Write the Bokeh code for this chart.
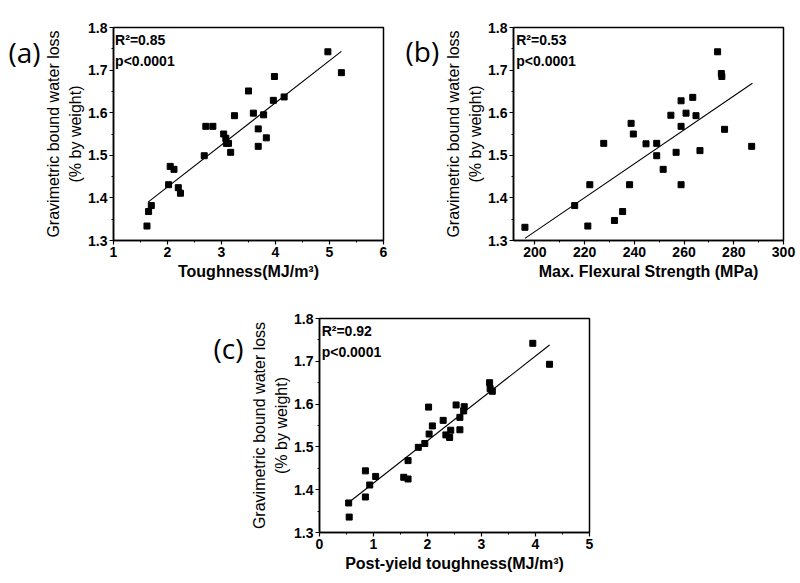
from bokeh.plotting import figure
from bokeh.layouts import column, row
from bokeh.models import FixedTicker, Label, Range1d
from bokeh.embed import file_html
from bokeh.resources import INLINE

# ---------------- data ----------------
# (a) Toughness vs bound water loss
a_x = [1.62, 1.65, 1.70, 2.02, 2.05, 2.12, 2.20, 2.24, 2.68, 2.71, 2.84, 3.04, 3.08,
       3.09, 3.13, 3.17, 3.24, 3.50, 3.59, 3.68, 3.68, 3.78, 3.83, 3.96, 3.98, 4.16,
       4.97, 5.22]
a_y = [1.334, 1.368, 1.382, 1.431, 1.474, 1.467, 1.424, 1.411, 1.499, 1.568, 1.568,
       1.550, 1.540, 1.528, 1.528, 1.507, 1.593, 1.651, 1.599, 1.562, 1.521, 1.595,
       1.541, 1.629, 1.685, 1.637, 1.743, 1.694]
a_fit_x = [1.64, 5.22]
a_fit_y = [1.390, 1.744]

# (b) Max flexural strength vs bound water loss
b_x = [196.0, 216.0, 221.3, 222.1, 227.7, 232.0, 235.3, 238.1, 238.7, 239.6, 244.7,
       249.0, 249.0, 251.6, 254.7, 256.8, 258.8, 258.8, 258.8, 260.8, 263.5, 264.8,
       266.4, 273.5, 275.0, 275.2, 276.3, 287.2]
b_y = [1.331, 1.382, 1.334, 1.431, 1.528, 1.347, 1.368, 1.431, 1.575, 1.550, 1.527,
       1.528, 1.499, 1.467, 1.594, 1.507, 1.628, 1.568, 1.431, 1.599, 1.636, 1.593,
       1.511, 1.743, 1.692, 1.685, 1.561, 1.521]
b_fit_x = [196.0, 287.5]
b_fit_y = [1.305, 1.669]

# (c) Post-yield toughness vs bound water loss
c_x = [0.54, 0.55, 0.85, 0.85, 0.93, 1.04, 1.56, 1.64, 1.64, 1.83, 1.95, 2.02, 2.03,
       2.09, 2.29, 2.34, 2.41, 2.43, 2.53, 2.60, 2.60, 2.67, 2.68, 3.15, 3.16, 3.20,
       3.95, 4.26]
c_y = [1.369, 1.336, 1.444, 1.383, 1.411, 1.431, 1.429, 1.425, 1.468, 1.499, 1.508,
       1.593, 1.530, 1.549, 1.562, 1.528, 1.522, 1.539, 1.598, 1.569, 1.540, 1.584,
       1.594, 1.650, 1.636, 1.630, 1.742, 1.693]
c_fit_x = [0.57, 4.26]
c_fit_y = [1.373, 1.738]

y_ticks = [1.3, 1.4, 1.5, 1.6, 1.7, 1.8]
y_minor = [1.35, 1.45, 1.55, 1.65, 1.75]

Y_TITLE = "Gravimetric bound water loss\n(% by weight)"

FONT = "Liberation Sans"


def make_panel(xs, ys, fx, fy, x_range, x_ticks, x_minor, x_title, stats,
               width, height, left, right, top, bottom, stat_x):
    p = figure(width=width, height=height, x_range=x_range, y_range=(1.3, 1.8),
               output_backend="svg", toolbar_location=None,
               min_border_left=left, min_border_right=right,
               min_border_top=top, min_border_bottom=bottom)
    p.background_fill_color = "white"
    p.border_fill_color = "white"
    p.outline_line_color = "black"
    p.outline_line_width = 1.5
    p.outline_line_alpha = 1.0
    p.xgrid.visible = False
    p.ygrid.visible = False

    p.line(fx, fy, line_color="black", line_width=1.1)
    p.scatter(xs, ys, marker="square", size=6, fill_color="black", line_color="black")

    p.xaxis.ticker = FixedTicker(ticks=x_ticks, minor_ticks=x_minor)
    p.yaxis.ticker = FixedTicker(ticks=y_ticks, minor_ticks=y_minor)
    for ax in (p.xaxis, p.yaxis):
        ax.axis_line_color = "black"
        ax.axis_line_width = 1.5
        ax.major_tick_line_color = "black"
        ax.minor_tick_line_color = "black"
        ax.major_tick_line_width = 1.2
        ax.minor_tick_line_width = 1.0
        ax.major_tick_in = 0
        ax.major_tick_out = 4
        ax.minor_tick_in = 0
        ax.minor_tick_out = 2
        ax.major_label_text_font = FONT
        ax.major_label_text_font_style = "bold"
        ax.major_label_text_font_size = "14px"
        ax.major_label_text_color = "black"
        ax.axis_label_text_color = "black"
    p.xaxis.major_label_standoff = 2
    p.yaxis.major_label_standoff = 2
    p.xaxis.axis_label = x_title
    p.xaxis.axis_label_text_font = FONT
    p.xaxis.axis_label_text_font_style = "bold"
    p.xaxis.axis_label_text_font_size = "16px"
    p.xaxis.axis_label_standoff = 3
    p.yaxis.axis_label = Y_TITLE
    p.yaxis.axis_label_text_font = FONT
    p.yaxis.axis_label_text_font_style = "normal"
    p.yaxis.axis_label_text_font_size = "16px"
    p.yaxis.axis_label_text_line_height = 1.3
    p.yaxis.axis_label_standoff = 1

    p.add_layout(Label(x=stat_x, y=1.789, text=stats[0], text_font=FONT,
                       text_font_style="bold", text_font_size="14px",
                       text_baseline="top", text_color="black"))
    p.add_layout(Label(x=stat_x, y=1.741, text=stats[1], text_font=FONT,
                       text_font_style="bold", text_font_size="14px",
                       text_baseline="top", text_color="black"))
    return p


def make_side(width, height, tag, tag_xy):
    """Side strip holding the panel tag (pixel coords)."""
    s = figure(width=width, height=height, x_range=Range1d(0, width),
               y_range=Range1d(0, height), x_axis_type=None, y_axis_type=None,
               output_backend="svg", toolbar_location=None,
               min_border=0, min_border_left=0, min_border_right=0,
               min_border_top=0, min_border_bottom=0)
    s.outline_line_color = None
    s.background_fill_color = "white"
    s.border_fill_color = "white"
    s.add_layout(Label(x=tag_xy[0], y=height - tag_xy[1], text=tag,
                       text_font="Open Sans", text_font_size="28px",
                       text_align="left", text_baseline="alphabetic",
                       text_color="black"))
    return s


# Row 1 (height 288): side_a [0,41], pa [41,395], side_b [395,441], pb [441,800]
side_a = make_side(41, 288, "(a)", (8, 33))
pa = make_panel(a_x, a_y, a_fit_x, a_fit_y, (1, 6), [1, 2, 3, 4, 5, 6],
                [1.5, 2.5, 3.5, 4.5, 5.5], "Toughness(MJ/m³)",
                ["R²=0.85", "p<0.0001"],
                width=354, height=288, left=70, right=12, top=27, bottom=48,
                stat_x=1.03)
side_b = make_side(46, 288, "(b)", (10, 32))
pb = make_panel(b_x, b_y, b_fit_x, b_fit_y, (191.4, 300), [200, 220, 240, 260, 280, 300],
                [210, 230, 250, 270, 290], "Max. Flexural Strength (MPa)",
                ["R²=0.53", "p<0.0001"],
                width=359, height=288, left=70, right=17, top=27, bottom=48,
                stat_x=192.5)

# Row 2 (height 295): side_c [0,247], pc [247,800]
side_c = make_side(247, 295, "(c)", (213, 40))
pc = make_panel(c_x, c_y, c_fit_x, c_fit_y, (0, 5), [0, 1, 2, 3, 4, 5],
                [0.5, 1.5, 2.5, 3.5, 4.5], "Post-yield toughness(MJ/m³)",
                ["R²=0.92", "p<0.0001"],
                width=553, height=295, left=70, right=211, top=30, bottom=51,
                stat_x=0.04)

layout = column(row(side_a, pa, side_b, pb), row(side_c, pc))

with open("out.html", "w") as f:
    f.write(file_html(layout, INLINE))
